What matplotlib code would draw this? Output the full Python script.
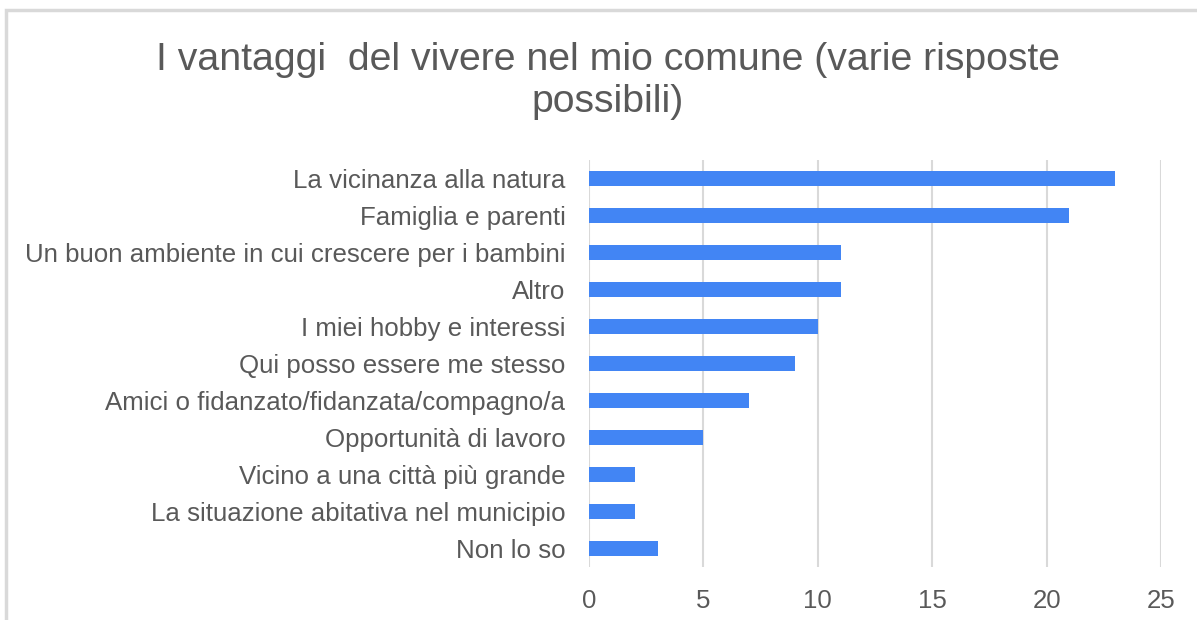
import matplotlib.pyplot as plt
from matplotlib.patches import Rectangle

plt.rcParams['font.family'] = ['Liberation Sans', 'DejaVu Sans']

# survey answers, top to bottom
categories = [
    "La vicinanza alla natura",
    "Famiglia e parenti",
    "Un buon ambiente in cui crescere per i bambini",
    "Altro",
    "I miei hobby e interessi",
    "Qui posso essere me stesso",
    "Amici o fidanzato/fidanzata/compagno/a",
    "Opportunità di lavoro",
    "Vicino a una città più grande",
    "La situazione abitativa nel municipio",
    "Non lo so",
]
counts = [23, 21, 11, 11, 10, 9, 7, 5, 2, 2, 3]
x_ticks = [0, 5, 10, 15, 20, 25]

W, H = 1197, 620
fig = plt.figure(figsize=(W / 100, H / 100), dpi=100)

# light gray frame (cut at right and bottom like the screenshot)
fig.patches.append(Rectangle((6 / W, -0.1), 1.2, 1 - 10 / H + 0.1,
                             transform=fig.transFigure, fill=False,
                             edgecolor='#d9d9d9', linewidth=2.5))

ax = fig.add_axes([589 / W, 1 - 567 / H, (1161 - 589) / W, (567 - 160) / H])

pos = list(range(len(categories)))
ax.barh(pos, counts, height=0.38, color='#4285F4', zorder=3)

ax.set_ylim(len(categories) - 0.5, -0.5)
ax.set_xlim(0, 25)
ax.set_xticks(x_ticks)
ax.set_yticks(pos)
ax.set_yticklabels(categories)

for s in ax.spines.values():
    s.set_visible(False)
ax.grid(axis='x', color='#d9d9d9', linewidth=1.5, zorder=0)
ax.tick_params(axis='both', length=0, labelsize=18.6, labelcolor='#595959')
ax.tick_params(axis='y', pad=17)
ax.tick_params(axis='x', pad=16)

fig.text(608 / W, 1 - 81 / H,
         "I vantaggi  del vivere nel mio comune (varie risposte\npossibili)",
         ha='center', va='center', fontsize=28.3, color='#595959', linespacing=1.2)

fig.savefig('out.png', dpi=100)
